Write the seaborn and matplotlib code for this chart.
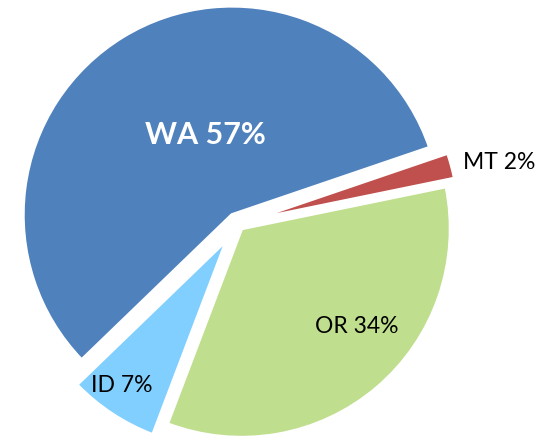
import numpy as np
import matplotlib
matplotlib.use("Agg")
import matplotlib.pyplot as plt
import seaborn as sns

states = ["WA", "MT", "OR", "ID"]
shares = [57, 2, 34, 7]
colors = ["#4F81BD", "#C0504D", "#BFDE8E", "#80CFFF"]

sns.set_theme(style="white")
plt.rcParams["font.family"] = ["Lato", "DejaVu Sans"]

fig = plt.figure(figsize=(5.48, 4.39), dpi=100)
ax = fig.add_axes([0, 0, 1, 1])

explode = [0.05, 0.062, 0.03, 0.09]
wedges, _ = ax.pie(shares, colors=colors, startangle=224, counterclock=False,
                   explode=explode,
                   wedgeprops=dict(edgecolor="white", linewidth=2.5))

label_r = [0.41, 1.225, 0.72, 0.855]
label_dang = [-13, -1.9, 9.5, -2.6]
styles = [dict(color="white", fontsize=22, fontweight="bold"),
          dict(color="black", fontsize=16.5),
          dict(color="black", fontsize=16.5),
          dict(color="black", fontsize=16.5)]
for w, s, v, r, da, st in zip(wedges, states, shares, label_r, label_dang, styles):
    mid = np.deg2rad((w.theta1 + w.theta2) / 2 + da)
    cx, cy = w.center
    ax.text(cx + r * np.cos(mid), cy + r * np.sin(mid), f"{s} {v}%",
            ha="center", va="center", **st)

ax.set_xlim(-1.136, 1.486)
ax.set_ylim(-1.025, 1.0756)
ax.set_aspect("auto")
ax.axis("off")
fig.savefig("out.png", dpi=100)
